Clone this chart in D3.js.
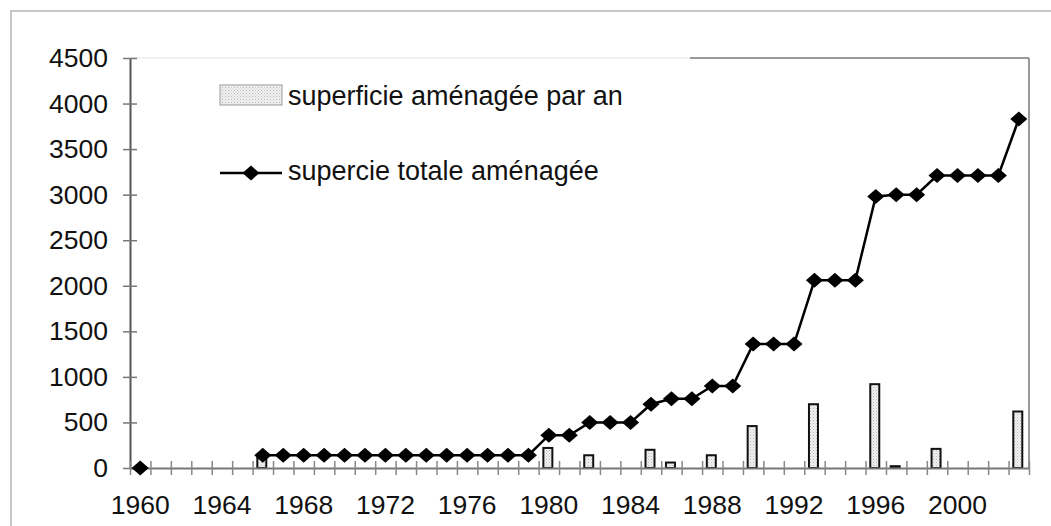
<!DOCTYPE html>
<html>
<head>
<meta charset="utf-8">
<script src="https://cdn.jsdelivr.net/npm/d3@7"></script>
<style>
  html, body { margin: 0; padding: 0; background: #fff; }
  svg { display: block; font-family: "Liberation Sans", Arial, sans-serif; }
</style>
</head>
<body>
<svg id="chart" width="1051" height="526"></svg>
<script>
// Years on the category axis
const years = d3.range(1960, 2004);

// Area developed each year (bars); 0 = nothing developed that year
const annualArea = [
  0, 0, 0, 0, 0, 0, 140, 0, 0, 0,
  0, 0, 0, 0, 0, 0, 0, 0, 0, 0,
  220, 0, 140, 0, 0, 200, 60, 0, 140, 0,
  460, 0, 0, 700, 0, 0, 920, 20, 0, 210,
  0, 0, 0, 620
];

// Cumulative developed area (line); null = no point that year
const totalArea = [
  0, null, null, null, null, null, 140, 140, 140, 140,
  140, 140, 140, 140, 140, 140, 140, 140, 140, 140,
  360, 360, 500, 500, 500, 700, 760, 760, 900, 900,
  1360, 1360, 1360, 2060, 2060, 2060, 2980, 3000, 3000, 3210,
  3210, 3210, 3210, 3830
];

const yTicks = [0, 500, 1000, 1500, 2000, 2500, 3000, 3500, 4000, 4500];
const xTickLabels = [1960, 1964, 1968, 1972, 1976, 1980, 1984, 1988, 1992, 1996, 2000];

const legendLabels = ["superficie aménagée par an", "supercie totale aménagée"];

const svg = d3.select("#chart");
const plotLeft = 130, plotRight = 1029, plotTop = 58, plotBottom = 468;
const fontSize = 26.5;
const legendFontSize = 27;
const textColor = "#111";

// Fine stipple fill for the bars
const defs = svg.append("defs");
const pat = defs.append("pattern")
  .attr("id", "stipple").attr("patternUnits", "userSpaceOnUse")
  .attr("width", 3).attr("height", 3);
pat.append("rect").attr("width", 3).attr("height", 3).attr("fill", "#f2f2f2");
pat.append("rect").attr("x", 0).attr("y", 0).attr("width", 1).attr("height", 1).attr("fill", "#b8b8b8");
pat.append("rect").attr("x", 1.5).attr("y", 1.5).attr("width", 1).attr("height", 1).attr("fill", "#c8c8c8");

// Outer frame
svg.append("rect")
  .attr("x", 11).attr("y", 11).attr("width", 1200).attr("height", 700)
  .attr("fill", "none").attr("stroke", "#b5b5b5").attr("stroke-width", 1.5);

const x = d3.scaleBand().domain(years).range([plotLeft, plotRight]).paddingInner(0).paddingOuter(0);
const xEdge = d3.scaleLinear().domain([0, years.length]).range([plotLeft, plotRight]);
const y = d3.scaleLinear().domain([0, 4500]).range([plotBottom, plotTop]);

// Plot frame: top and right edges
svg.append("line").attr("x1", plotLeft).attr("x2", 690).attr("y1", plotTop).attr("y2", plotTop)
  .attr("stroke", "#ececec").attr("stroke-width", 1.5);
svg.append("line").attr("x1", 690).attr("x2", plotRight).attr("y1", plotTop).attr("y2", plotTop)
  .attr("stroke", "#999").attr("stroke-width", 2);
svg.append("line").attr("x1", plotRight).attr("x2", plotRight).attr("y1", plotTop).attr("y2", plotBottom)
  .attr("stroke", "#999").attr("stroke-width", 2);

// Bars
const bw = 9;
svg.append("g").selectAll("rect")
  .data(years.map((yr, i) => ({ yr, v: annualArea[i] })).filter(d => d.v > 0))
  .join("rect")
  .attr("x", d => x(d.yr) + x.bandwidth() / 2 - bw / 2 - 1)
  .attr("y", d => y(d.v))
  .attr("width", bw)
  .attr("height", d => y(0) - y(d.v))
  .attr("fill", "url(#stipple)")
  .attr("stroke", "#111").attr("stroke-width", 2);

// Y axis
const yAxis = svg.append("g").attr("transform", `translate(${plotLeft},0)`)
  .call(d3.axisLeft(y).tickValues(yTicks).tickSize(0).tickPadding(22).tickFormat(d3.format("d")));
yAxis.select(".domain").attr("stroke", "#555").attr("stroke-width", 2);
yAxis.selectAll(".tick line").attr("x1", -7).attr("x2", 7).attr("stroke", "#777").attr("stroke-width", 1.5);
yAxis.selectAll(".tick text").attr("font-size", fontSize).attr("fill", textColor)
  .attr("font-family", "Liberation Sans, Arial, sans-serif");

// X axis: ticks on category boundaries
const xAxis = svg.append("g").attr("transform", `translate(0,${plotBottom})`)
  .call(d3.axisBottom(xEdge).tickValues(d3.range(years.length + 1)).tickSize(0).tickFormat(""));
xAxis.select(".domain").attr("stroke", "#777").attr("stroke-width", 2);
xAxis.selectAll(".tick line").attr("y1", -7).attr("y2", 7).attr("stroke", "#888").attr("stroke-width", 1.5);

// X labels every fourth year
const xLab = svg.append("g").attr("transform", `translate(0,${plotBottom})`)
  .call(d3.axisBottom(x).tickValues(xTickLabels).tickSize(0));
xLab.select(".domain").remove();
xLab.selectAll(".tick text").attr("font-size", fontSize).attr("fill", textColor)
  .attr("y", 46).attr("dy", 0)
  .attr("font-family", "Liberation Sans, Arial, sans-serif");

// Cumulative line with diamond markers
const pts = years.map((yr, i) => ({ yr, v: totalArea[i] }));
const line = d3.line()
  .defined(d => d.v !== null)
  .x(d => x(d.yr) + x.bandwidth() / 2)
  .y(d => y(d.v));
svg.append("path").datum(pts).attr("d", line)
  .attr("fill", "none").attr("stroke", "#000").attr("stroke-width", 2.5);

// Diamond marker: a square turned 45 degrees, slightly wider than tall
const diamond = d3.symbol().type(d3.symbolSquare).size(125);
const markerTf = (cx, cy) => `translate(${cx},${cy}) scale(1.08,0.95) rotate(45)`;
svg.append("g").selectAll("path")
  .data(pts.filter(d => d.v !== null))
  .join("path")
  .attr("d", diamond)
  .attr("transform", d => markerTf(x(d.yr) + x.bandwidth() / 2, y(d.v)))
  .attr("fill", "#000");

// Legend
const lg = svg.append("g");
lg.append("rect").attr("x", 220).attr("y", 85).attr("width", 62).attr("height", 20)
  .attr("fill", "url(#stipple)").attr("stroke", "#aaa").attr("stroke-width", 1.2);
lg.append("text").attr("x", 288).attr("y", 105).text(legendLabels[0])
  .attr("font-size", legendFontSize).attr("fill", textColor);
lg.append("line").attr("x1", 220).attr("x2", 282).attr("y1", 173).attr("y2", 173)
  .attr("stroke", "#000").attr("stroke-width", 2.5);
lg.append("path").attr("d", diamond).attr("transform", markerTf(251, 173)).attr("fill", "#000");
lg.append("text").attr("x", 288).attr("y", 180).text(legendLabels[1])
  .attr("font-size", legendFontSize).attr("fill", textColor);
</script>
</body>
</html>
